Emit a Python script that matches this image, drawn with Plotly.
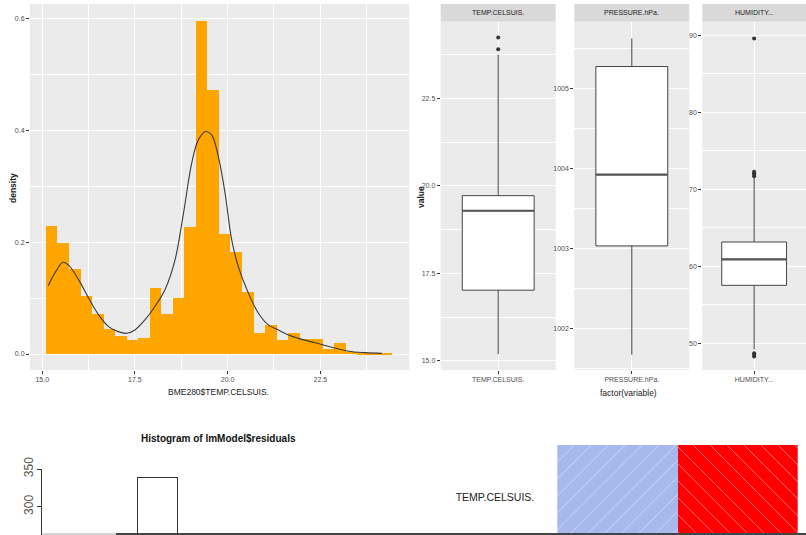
import plotly.graph_objects as go

W, H = 806, 535
FONT = "Liberation Sans, Arial, sans-serif"


def fx(p):
    return p / W


def fy(p):
    return 1 - p / H


# ---------------- data ----------------
# ggplot histogram of BME280$TEMP.CELSUIS. (density scale, 30 bins)
hist_bin_start = 15.10
hist_bin_width = 0.311
hist_density = [0.229, 0.198, 0.152, 0.104, 0.071, 0.044, 0.033, 0.025, 0.029, 0.118,
                0.071, 0.101, 0.228, 0.596, 0.472, 0.215, 0.183, 0.111, 0.038, 0.051,
                0.025, 0.037, 0.027, 0.026, 0.009, 0.019, 0.004, 0.002, 0.002, 0.002]

# kernel density curve
dens_x = [15.16, 15.36, 15.56, 15.71, 15.98, 16.25, 16.52, 16.79, 17.05, 17.28,
          17.50, 17.77, 18.04, 18.31, 18.58, 18.81, 19.03, 19.21, 19.41, 19.57,
          19.75, 19.93, 20.11, 20.29, 20.56, 20.83, 21.10, 21.37, 21.64, 21.91,
          22.36, 22.81, 23.26, 23.71, 24.16]
dens_y = [0.122, 0.147, 0.164, 0.159, 0.133, 0.100, 0.070, 0.049, 0.040, 0.037,
          0.043, 0.061, 0.085, 0.115, 0.168, 0.252, 0.341, 0.383, 0.398, 0.392,
          0.353, 0.288, 0.204, 0.156, 0.109, 0.073, 0.052, 0.043, 0.034, 0.028,
          0.020, 0.012, 0.005, 0.0024, 0.0012]

# boxplots per variable
box_vars = ["TEMP.CELSUIS.", "PRESSURE.hPa.", "HUMIDITY..."]
box_q1 = [17.02, 1003.03, 57.53]
box_median = [19.29, 1003.92, 60.91]
box_q3 = [19.72, 1005.27, 63.16]
box_lower = [15.19, 1001.67, 49.2]
box_upper = [23.75, 1005.62, 71.5]
box_outliers = [[23.90, 24.24], [], [71.7, 71.9, 72.1, 72.3, 89.6, 48.3, 48.5, 48.7]]
box_yticks = [[15, 17.5, 20, 22.5], [1002, 1003, 1004, 1005], [50, 60, 70, 80, 90]]
box_yticktext = [["15.0", "17.5", "20.0", "22.5"], ["1002", "1003", "1004", "1005"],
                 ["50", "60", "70", "80", "90"]]
box_yminor = [[16.25, 18.75, 21.25, 23.75], [1001.5, 1002.5, 1003.5, 1004.5, 1005.5],
              [55, 65, 75, 85]]
box_yrange = [[14.74, 24.69], [1001.48, 1005.83], [46.53, 91.78]]

# base-R histogram of lmModel$residuals (only one bar visible)
resid_bin_center = [-1.75]
resid_bin_width = 0.5
resid_counts = [339]

# stacked horizontal bar
stack_category = ["TEMP.CELSUIS."]
stack_values = [50.2, 49.8]
stack_colors = ["#A7B8EC", "#FF0000"]
stack_patterns = ["/", "\\"]

# ---------------- figure ----------------
fig = go.Figure()

centers = [hist_bin_start + hist_bin_width * (i + 0.5) for i in range(len(hist_density))]
fig.add_trace(go.Bar(x=centers, y=hist_density, width=hist_bin_width,
                     marker=dict(color="#FFA500", line=dict(width=0)),
                     xaxis="x", yaxis="y", showlegend=False, hoverinfo="x+y"))
fig.add_trace(go.Scatter(x=dens_x, y=dens_y, mode="lines",
                         line=dict(color="#3A3A3A", width=1.1, shape="spline"),
                         xaxis="x", yaxis="y", showlegend=False))

# box panels
panel_x = [(440.7, 555.7), (574.3, 689.3), (702.3, 806)]
for i in range(3):
    ax = str(i + 2)
    fig.add_trace(go.Box(x=[1], q1=[box_q1[i]], median=[box_median[i]], q3=[box_q3[i]],
                         lowerfence=[box_lower[i]], upperfence=[box_upper[i]],
                         width=0.75, fillcolor="white", whiskerwidth=0,
                         line=dict(color="#444444", width=1), boxpoints=False,
                         xaxis="x" + ax, yaxis="y" + ax, showlegend=False))
    fig.add_trace(go.Scatter(x=[0.625, 1.375], y=[box_median[i], box_median[i]],
                             mode="lines", line=dict(color="#555555", width=2.2),
                             xaxis="x" + ax, yaxis="y" + ax, showlegend=False))
    if box_outliers[i]:
        fig.add_trace(go.Scatter(x=[1] * len(box_outliers[i]), y=box_outliers[i],
                                 mode="markers", marker=dict(color="#333333", size=4),
                                 xaxis="x" + ax, yaxis="y" + ax, showlegend=False))

# residual histogram
fig.add_trace(go.Bar(x=resid_bin_center, y=resid_counts, width=resid_bin_width,
                     marker=dict(color="white", line=dict(color="#333333", width=1)),
                     xaxis="x5", yaxis="y5", showlegend=False))

# stacked pattern bar
for v, c, p in zip(stack_values, stack_colors, stack_patterns):
    fig.add_trace(go.Bar(y=stack_category, x=[v], orientation="h", width=1,
                         marker=dict(color=c, line=dict(width=0),
                                     pattern=dict(shape=p, fgcolor="white", fgopacity=0.6,
                                                  size=12, solidity=0.06, fillmode="overlay")),
                         xaxis="x6", yaxis="y6", showlegend=False))

tickfont = dict(family=FONT, size=7, color="#4D4D4D")
grid_major = dict(showgrid=True, gridcolor="white", gridwidth=1.1, zeroline=False,
                  ticks="outside", ticklen=3, tickcolor="#333333", tickwidth=1,
                  tickfont=tickfont, showline=False, automargin=False)

layout = dict(
    template="none",
    width=W, height=H, margin=dict(l=0, r=0, t=0, b=0, pad=0), autosize=False,
    paper_bgcolor="white", plot_bgcolor="white", barmode="stack",
    showlegend=False,
    xaxis=dict(domain=[fx(30), fx(409.3)], range=[14.67, 24.9], anchor="y",
               tickvals=[15, 17.5, 20, 22.5], ticktext=["15.0", "17.5", "20.0", "22.5"],
               minor=dict(tickvals=[16.25, 18.75, 21.25, 23.75], showgrid=True,
                          gridcolor="white", gridwidth=0.5), **grid_major),
    yaxis=dict(domain=[fy(370), fy(4)], range=[-0.0286, 0.626], anchor="x",
               tickvals=[0, 0.2, 0.4, 0.6], ticktext=["0.0", "0.2", "0.4", "0.6"],
               minor=dict(tickvals=[0.1, 0.3, 0.5], showgrid=True,
                          gridcolor="white", gridwidth=0.5), **grid_major),
)

for i in range(3):
    ax = str(i + 2)
    layout["xaxis" + ax] = dict(domain=[fx(panel_x[i][0]), fx(min(panel_x[i][1], W))],
                                range=[0.4, 1.6], anchor="y" + ax,
                                tickvals=[1], ticktext=[box_vars[i]], **grid_major)
    layout["yaxis" + ax] = dict(domain=[fy(370), fy(21.7)], range=box_yrange[i],
                                anchor="x" + ax, tickvals=box_yticks[i],
                                ticktext=box_yticktext[i],
                                minor=dict(tickvals=box_yminor[i], showgrid=True,
                                           gridcolor="white", gridwidth=0.5), **grid_major)

layout["xaxis5"] = dict(domain=[fx(42.3), fx(400)], range=[-3.196, 1.279], anchor="y5",
                        visible=False, automargin=False)
layout["yaxis5"] = dict(domain=[0, fy(469)], range=[262.5, 350], anchor="x5",
                        showline=True, linecolor="#333333", linewidth=1, showgrid=False,
                        zeroline=False, ticks="outside", ticklen=4, tickcolor="#333333",
                        tickvals=[300, 350], ticktext=["300", "350"], tickangle=-90,
                        automargin=False,
                        tickfont=dict(family=FONT, size=12, color="#555555"))

layout["xaxis6"] = dict(domain=[fx(557.3), fx(797.7)], range=[0, 100], anchor="y6",
                        visible=False, automargin=False)
layout["yaxis6"] = dict(domain=[0, fy(445)], range=[-0.354, 0.5], anchor="x6",
                        type="category", showgrid=False, zeroline=False, showline=False,
                        ticks="", ticklabelstandoff=22, automargin=False,
                        tickfont=dict(family=FONT, size=10.5, color="#222222"))

shapes = []
# ggplot panel backgrounds
for ax in ["", "2", "3", "4"]:
    shapes.append(dict(type="rect", xref="x%s domain" % ax, yref="y%s domain" % ax,
                       x0=0, x1=1, y0=0, y1=1, fillcolor="#EBEBEB",
                       line=dict(width=0), layer="below"))
# facet strips
for (a, b) in panel_x:
    shapes.append(dict(type="rect", xref="paper", yref="paper", x0=fx(a), x1=fx(min(b, W)),
                       y0=fy(21.7), y1=fy(4), fillcolor="#D9D9D9", line=dict(width=0),
                       layer="below"))
# bottom divider lines
shapes.append(dict(type="line", xref="paper", yref="paper", x0=fx(42.3), x1=fx(116),
                   y0=fy(534), y1=fy(534), line=dict(color="#AAAAAA", width=1)))
shapes.append(dict(type="line", xref="paper", yref="paper", x0=fx(116), x1=1,
                   y0=fy(534), y1=fy(534), line=dict(color="#444444", width=2)))
layout["shapes"] = shapes

ann = []
ann.append(dict(text="<b>density</b>", x=fx(13), y=fy(188), xref="paper", yref="paper",
                textangle=-90, showarrow=False, xanchor="center", yanchor="middle",
                font=dict(family=FONT, size=8.5, color="#1A1A1A")))
ann.append(dict(text="BME280$TEMP.CELSUIS.", x=fx(218.5), y=fy(392), xref="paper",
                yref="paper", showarrow=False, xanchor="center", yanchor="middle",
                font=dict(family=FONT, size=8.5, color="#1A1A1A")))
ann.append(dict(text="<b>value</b>", x=fx(421), y=fy(197), xref="paper", yref="paper",
                textangle=-90, showarrow=False, xanchor="center", yanchor="middle",
                font=dict(family=FONT, size=8.5, color="#1A1A1A")))
ann.append(dict(text="factor(variable)", x=fx(628), y=fy(393), xref="paper",
                yref="paper", showarrow=False, xanchor="center", yanchor="middle",
                font=dict(family=FONT, size=8.5, color="#1A1A1A")))
for (a, b), name in zip(panel_x, box_vars):
    ann.append(dict(text=name, x=fx((a + min(b, W)) / 2), y=fy(12.9), xref="paper",
                    yref="paper", showarrow=False, xanchor="center", yanchor="middle",
                    font=dict(family=FONT, size=7, color="#1A1A1A")))
ann.append(dict(text="<b>Histogram of lmModel$residuals</b>", x=fx(218), y=fy(438),
                xref="paper", yref="paper", showarrow=False, xanchor="center",
                yanchor="middle", font=dict(family=FONT, size=10, color="#111111")))
layout["annotations"] = ann

fig.update_layout(**layout)
fig.write_html("out.html", config={"displayModeBar": False, "staticPlot": False})

# remove the browser's default 8px body margin so the figure sits at the page origin
with open("out.html", "r", encoding="utf-8") as f:
    html = f.read()
html = html.replace("<body>", '<body style="margin:0;padding:0;overflow:hidden">', 1)
with open("out.html", "w", encoding="utf-8") as f:
    f.write(html)
